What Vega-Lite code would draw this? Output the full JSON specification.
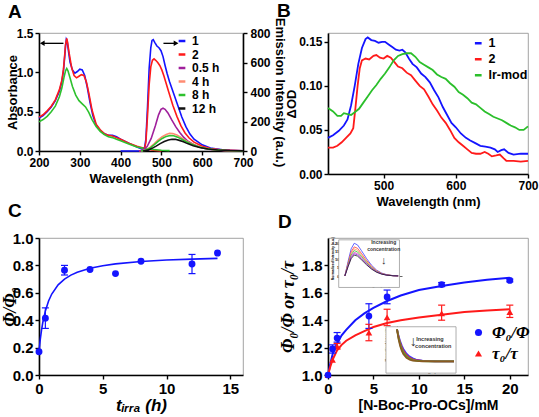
{
"$schema": "https://vega.github.io/schema/vega-lite/v6.json",
"padding": {"left": 0, "top": 1, "right": 0, "bottom": 0},
"autosize": {"type": "pad"},
"columns": 2,
"bounds": "flush",
"align": "each",
"spacing": {"row": 64, "column": 85},
"resolve": {"scale": {"color": "independent", "shape": "independent"}},
"config": {
 "font": "Liberation Sans",
 "view": {"stroke": "#8c8c8c", "strokeWidth": 0.8},
 "axis": {"grid": false, "labelOverlap": false, "labelFlush": false, "domainColor": "#000", "domainWidth": 1.6, "tickColor": "#000", "tickWidth": 1.4, "tickSize": 4, "labelColor": "#000", "titleColor": "#000", "labelFontWeight": "bold", "titleFontWeight": "bold", "labelFontSize": 12, "titleFontSize": 13, "labelPadding": 2, "titlePadding": 4},
 "legend": {"labelColor": "#000", "labelFontWeight": "bold"},
 "title": {"color": "#000", "fontWeight": "bold", "fontSize": 19, "anchor": "start", "frame": "group", "baseline": "alphabetic"}
},
"datasets": {
 "absA": [
  {"s":"1","nm":200,"v":0.42},{"s":"1","nm":210,"v":0.45},{"s":"1","nm":220,"v":0.5},{"s":"1","nm":230,"v":0.56},{"s":"1","nm":240,"v":0.64},{"s":"1","nm":250,"v":0.76},{"s":"1","nm":256,"v":0.88},{"s":"1","nm":260,"v":1.02},{"s":"1","nm":263,"v":1.2},{"s":"1","nm":265,"v":1.33},{"s":"1","nm":267,"v":1.42},{"s":"1","nm":269,"v":1.4},{"s":"1","nm":272,"v":1.28},{"s":"1","nm":276,"v":1.13},{"s":"1","nm":282,"v":1.03},{"s":"1","nm":288,"v":0.99},{"s":"1","nm":294,"v":1.01},{"s":"1","nm":300,"v":1.04},{"s":"1","nm":306,"v":1.03},{"s":"1","nm":312,"v":0.96},{"s":"1","nm":318,"v":0.82},{"s":"1","nm":325,"v":0.62},{"s":"1","nm":332,"v":0.45},{"s":"1","nm":340,"v":0.33},{"s":"1","nm":350,"v":0.26},{"s":"1","nm":360,"v":0.22},{"s":"1","nm":370,"v":0.2},{"s":"1","nm":380,"v":0.2},{"s":"1","nm":390,"v":0.18},{"s":"1","nm":400,"v":0.15},{"s":"1","nm":420,"v":0.1},{"s":"1","nm":440,"v":0.05},{"s":"1","nm":455,"v":0.02},{"s":"1","nm":470,"v":0.01},
  {"s":"2","nm":200,"v":0.43},{"s":"2","nm":210,"v":0.46},{"s":"2","nm":220,"v":0.51},{"s":"2","nm":230,"v":0.57},{"s":"2","nm":240,"v":0.65},{"s":"2","nm":250,"v":0.78},{"s":"2","nm":256,"v":0.9},{"s":"2","nm":260,"v":1.04},{"s":"2","nm":263,"v":1.22},{"s":"2","nm":265,"v":1.35},{"s":"2","nm":268,"v":1.43},{"s":"2","nm":270,"v":1.38},{"s":"2","nm":274,"v":1.24},{"s":"2","nm":280,"v":1.06},{"s":"2","nm":286,"v":0.96},{"s":"2","nm":292,"v":0.93},{"s":"2","nm":298,"v":0.95},{"s":"2","nm":304,"v":0.97},{"s":"2","nm":310,"v":0.96},{"s":"2","nm":316,"v":0.88},{"s":"2","nm":322,"v":0.74},{"s":"2","nm":330,"v":0.52},{"s":"2","nm":340,"v":0.34},{"s":"2","nm":350,"v":0.27},{"s":"2","nm":360,"v":0.22},{"s":"2","nm":370,"v":0.2},{"s":"2","nm":380,"v":0.19},{"s":"2","nm":390,"v":0.17},{"s":"2","nm":400,"v":0.15},{"s":"2","nm":420,"v":0.1},{"s":"2","nm":440,"v":0.06},{"s":"2","nm":460,"v":0.03},{"s":"2","nm":480,"v":0.01},{"s":"2","nm":500,"v":0.0},
  {"s":"8 h","nm":200,"v":0.37},{"s":"8 h","nm":210,"v":0.4},{"s":"8 h","nm":220,"v":0.44},{"s":"8 h","nm":230,"v":0.5},{"s":"8 h","nm":240,"v":0.57},{"s":"8 h","nm":250,"v":0.69},{"s":"8 h","nm":256,"v":0.8},{"s":"8 h","nm":261,"v":0.93},{"s":"8 h","nm":265,"v":1.02},{"s":"8 h","nm":268,"v":1.05},{"s":"8 h","nm":271,"v":1.02},{"s":"8 h","nm":276,"v":0.93},{"s":"8 h","nm":282,"v":0.82},{"s":"8 h","nm":290,"v":0.71},{"s":"8 h","nm":298,"v":0.64},{"s":"8 h","nm":306,"v":0.6},{"s":"8 h","nm":314,"v":0.56},{"s":"8 h","nm":322,"v":0.49},{"s":"8 h","nm":330,"v":0.4},{"s":"8 h","nm":340,"v":0.31},{"s":"8 h","nm":350,"v":0.25},{"s":"8 h","nm":360,"v":0.21},{"s":"8 h","nm":370,"v":0.18},{"s":"8 h","nm":380,"v":0.17},{"s":"8 h","nm":390,"v":0.15},{"s":"8 h","nm":400,"v":0.13},{"s":"8 h","nm":420,"v":0.09},{"s":"8 h","nm":440,"v":0.05},{"s":"8 h","nm":460,"v":0.03},{"s":"8 h","nm":480,"v":0.02},{"s":"8 h","nm":500,"v":0.01},{"s":"8 h","nm":520,"v":0.005}
 ],
 "emA": [
  {"s":"1","nm":400,"v":0},{"s":"1","nm":452,"v":0},{"s":"1","nm":458,"v":10},{"s":"1","nm":462,"v":80},{"s":"1","nm":466,"v":300},{"s":"1","nm":470,"v":560},{"s":"1","nm":474,"v":700},{"s":"1","nm":477,"v":750},{"s":"1","nm":480,"v":755},{"s":"1","nm":484,"v":735},{"s":"1","nm":489,"v":712},{"s":"1","nm":494,"v":700},{"s":"1","nm":499,"v":680},{"s":"1","nm":504,"v":640},{"s":"1","nm":509,"v":580},{"s":"1","nm":514,"v":525},{"s":"1","nm":520,"v":470},{"s":"1","nm":530,"v":390},{"s":"1","nm":540,"v":310},{"s":"1","nm":550,"v":230},{"s":"1","nm":560,"v":165},{"s":"1","nm":570,"v":115},{"s":"1","nm":580,"v":80},{"s":"1","nm":600,"v":42},{"s":"1","nm":620,"v":20},{"s":"1","nm":650,"v":8},{"s":"1","nm":700,"v":2},
  {"s":"2","nm":445,"v":0},{"s":"2","nm":458,"v":5},{"s":"2","nm":462,"v":60},{"s":"2","nm":466,"v":240},{"s":"2","nm":470,"v":450},{"s":"2","nm":474,"v":570},{"s":"2","nm":478,"v":615},{"s":"2","nm":482,"v":625},{"s":"2","nm":486,"v":615},{"s":"2","nm":491,"v":600},{"s":"2","nm":496,"v":580},{"s":"2","nm":501,"v":550},{"s":"2","nm":506,"v":510},{"s":"2","nm":511,"v":465},{"s":"2","nm":518,"v":400},{"s":"2","nm":528,"v":310},{"s":"2","nm":538,"v":235},{"s":"2","nm":548,"v":170},{"s":"2","nm":558,"v":122},{"s":"2","nm":568,"v":88},{"s":"2","nm":580,"v":60},{"s":"2","nm":600,"v":32},{"s":"2","nm":620,"v":16},{"s":"2","nm":650,"v":6},{"s":"2","nm":700,"v":1},
  {"s":"0.5 h","nm":445,"v":0},{"s":"0.5 h","nm":455,"v":5},{"s":"0.5 h","nm":465,"v":30},{"s":"0.5 h","nm":475,"v":85},{"s":"0.5 h","nm":485,"v":170},{"s":"0.5 h","nm":493,"v":245},{"s":"0.5 h","nm":499,"v":282},{"s":"0.5 h","nm":504,"v":290},{"s":"0.5 h","nm":509,"v":283},{"s":"0.5 h","nm":516,"v":258},{"s":"0.5 h","nm":525,"v":212},{"s":"0.5 h","nm":535,"v":165},{"s":"0.5 h","nm":545,"v":125},{"s":"0.5 h","nm":555,"v":92},{"s":"0.5 h","nm":565,"v":66},{"s":"0.5 h","nm":580,"v":42},{"s":"0.5 h","nm":600,"v":21},{"s":"0.5 h","nm":620,"v":10},{"s":"0.5 h","nm":650,"v":3},{"s":"0.5 h","nm":700,"v":0},
  {"s":"4 h","nm":450,"v":0},{"s":"4 h","nm":462,"v":8},{"s":"4 h","nm":472,"v":25},{"s":"4 h","nm":482,"v":48},{"s":"4 h","nm":492,"v":75},{"s":"4 h","nm":502,"v":97},{"s":"4 h","nm":512,"v":112},{"s":"4 h","nm":520,"v":120},{"s":"4 h","nm":528,"v":118},{"s":"4 h","nm":538,"v":108},{"s":"4 h","nm":548,"v":92},{"s":"4 h","nm":558,"v":74},{"s":"4 h","nm":572,"v":52},{"s":"4 h","nm":588,"v":33},{"s":"4 h","nm":605,"v":20},{"s":"4 h","nm":625,"v":11},{"s":"4 h","nm":655,"v":4},{"s":"4 h","nm":700,"v":1},
  {"s":"8 h","nm":450,"v":0},{"s":"8 h","nm":462,"v":6},{"s":"8 h","nm":472,"v":20},{"s":"8 h","nm":482,"v":41},{"s":"8 h","nm":492,"v":65},{"s":"8 h","nm":502,"v":85},{"s":"8 h","nm":512,"v":99},{"s":"8 h","nm":521,"v":105},{"s":"8 h","nm":530,"v":103},{"s":"8 h","nm":540,"v":94},{"s":"8 h","nm":550,"v":80},{"s":"8 h","nm":560,"v":64},{"s":"8 h","nm":575,"v":45},{"s":"8 h","nm":590,"v":29},{"s":"8 h","nm":610,"v":16},{"s":"8 h","nm":630,"v":9},{"s":"8 h","nm":660,"v":3},{"s":"8 h","nm":700,"v":1},
  {"s":"12 h","nm":455,"v":0},{"s":"12 h","nm":467,"v":6},{"s":"12 h","nm":477,"v":18},{"s":"12 h","nm":487,"v":33},{"s":"12 h","nm":497,"v":50},{"s":"12 h","nm":507,"v":64},{"s":"12 h","nm":517,"v":74},{"s":"12 h","nm":526,"v":80},{"s":"12 h","nm":534,"v":79},{"s":"12 h","nm":544,"v":72},{"s":"12 h","nm":554,"v":62},{"s":"12 h","nm":564,"v":50},{"s":"12 h","nm":578,"v":36},{"s":"12 h","nm":594,"v":24},{"s":"12 h","nm":614,"v":14},{"s":"12 h","nm":638,"v":7},{"s":"12 h","nm":668,"v":3},{"s":"12 h","nm":700,"v":1}
 ],
 "arrowsA": [
  {"nm":208,"tail":260,"v":730,"dir":"left"},
  {"nm":536,"tail":505,"v":730,"dir":"right"}
 ],
 "tasB": [
  {"s":"1","nm":423,"v":0.041},{"s":"1","nm":430,"v":0.044},{"s":"1","nm":438,"v":0.049},{"s":"1","nm":445,"v":0.055},{"s":"1","nm":450,"v":0.062},{"s":"1","nm":455,"v":0.078},{"s":"1","nm":460,"v":0.1},{"s":"1","nm":465,"v":0.125},{"s":"1","nm":470,"v":0.143},{"s":"1","nm":475,"v":0.153},{"s":"1","nm":478,"v":0.155},{"s":"1","nm":483,"v":0.152},{"s":"1","nm":488,"v":0.151},{"s":"1","nm":493,"v":0.149},{"s":"1","nm":498,"v":0.15},{"s":"1","nm":502,"v":0.15},{"s":"1","nm":507,"v":0.147},{"s":"1","nm":512,"v":0.144},{"s":"1","nm":517,"v":0.141},{"s":"1","nm":522,"v":0.14},{"s":"1","nm":526,"v":0.141},{"s":"1","nm":530,"v":0.138},{"s":"1","nm":535,"v":0.131},{"s":"1","nm":540,"v":0.125},{"s":"1","nm":546,"v":0.121},{"s":"1","nm":552,"v":0.114},{"s":"1","nm":558,"v":0.11},{"s":"1","nm":564,"v":0.104},{"s":"1","nm":570,"v":0.095},{"s":"1","nm":576,"v":0.087},{"s":"1","nm":582,"v":0.076},{"s":"1","nm":588,"v":0.067},{"s":"1","nm":594,"v":0.058},{"s":"1","nm":600,"v":0.053},{"s":"1","nm":607,"v":0.046},{"s":"1","nm":614,"v":0.041},{"s":"1","nm":620,"v":0.038},{"s":"1","nm":627,"v":0.035},{"s":"1","nm":634,"v":0.032},{"s":"1","nm":641,"v":0.031},{"s":"1","nm":648,"v":0.03},{"s":"1","nm":654,"v":0.028},{"s":"1","nm":658,"v":0.025},{"s":"1","nm":663,"v":0.027},{"s":"1","nm":667,"v":0.028},{"s":"1","nm":673,"v":0.024},{"s":"1","nm":680,"v":0.022},{"s":"1","nm":690,"v":0.023},{"s":"1","nm":700,"v":0.023},
  {"s":"2","nm":423,"v":0.03},{"s":"2","nm":430,"v":0.03},{"s":"2","nm":436,"v":0.032},{"s":"2","nm":442,"v":0.036},{"s":"2","nm":448,"v":0.041},{"s":"2","nm":454,"v":0.046},{"s":"2","nm":458,"v":0.052},{"s":"2","nm":461,"v":0.075},{"s":"2","nm":464,"v":0.1},{"s":"2","nm":467,"v":0.12},{"s":"2","nm":470,"v":0.129},{"s":"2","nm":475,"v":0.131},{"s":"2","nm":480,"v":0.13},{"s":"2","nm":486,"v":0.134},{"s":"2","nm":490,"v":0.135},{"s":"2","nm":495,"v":0.132},{"s":"2","nm":500,"v":0.131},{"s":"2","nm":505,"v":0.134},{"s":"2","nm":510,"v":0.132},{"s":"2","nm":515,"v":0.127},{"s":"2","nm":520,"v":0.122},{"s":"2","nm":526,"v":0.12},{"s":"2","nm":532,"v":0.115},{"s":"2","nm":538,"v":0.112},{"s":"2","nm":544,"v":0.106},{"s":"2","nm":550,"v":0.1},{"s":"2","nm":556,"v":0.096},{"s":"2","nm":562,"v":0.088},{"s":"2","nm":568,"v":0.079},{"s":"2","nm":574,"v":0.072},{"s":"2","nm":580,"v":0.064},{"s":"2","nm":586,"v":0.058},{"s":"2","nm":592,"v":0.05},{"s":"2","nm":598,"v":0.041},{"s":"2","nm":604,"v":0.036},{"s":"2","nm":610,"v":0.032},{"s":"2","nm":616,"v":0.028},{"s":"2","nm":622,"v":0.024},{"s":"2","nm":628,"v":0.023},{"s":"2","nm":634,"v":0.023},{"s":"2","nm":640,"v":0.025},{"s":"2","nm":645,"v":0.023},{"s":"2","nm":650,"v":0.02},{"s":"2","nm":656,"v":0.021},{"s":"2","nm":661,"v":0.022},{"s":"2","nm":666,"v":0.018},{"s":"2","nm":670,"v":0.015},{"s":"2","nm":680,"v":0.015},{"s":"2","nm":690,"v":0.014},{"s":"2","nm":700,"v":0.015},
  {"s":"Ir-mod","nm":423,"v":0.075},{"s":"Ir-mod","nm":430,"v":0.071},{"s":"Ir-mod","nm":436,"v":0.066},{"s":"Ir-mod","nm":441,"v":0.066},{"s":"Ir-mod","nm":445,"v":0.069},{"s":"Ir-mod","nm":450,"v":0.068},{"s":"Ir-mod","nm":455,"v":0.067},{"s":"Ir-mod","nm":460,"v":0.07},{"s":"Ir-mod","nm":466,"v":0.074},{"s":"Ir-mod","nm":472,"v":0.081},{"s":"Ir-mod","nm":478,"v":0.088},{"s":"Ir-mod","nm":484,"v":0.095},{"s":"Ir-mod","nm":490,"v":0.101},{"s":"Ir-mod","nm":496,"v":0.108},{"s":"Ir-mod","nm":502,"v":0.114},{"s":"Ir-mod","nm":508,"v":0.121},{"s":"Ir-mod","nm":514,"v":0.129},{"s":"Ir-mod","nm":520,"v":0.134},{"s":"Ir-mod","nm":526,"v":0.136},{"s":"Ir-mod","nm":532,"v":0.137},{"s":"Ir-mod","nm":538,"v":0.137},{"s":"Ir-mod","nm":544,"v":0.133},{"s":"Ir-mod","nm":550,"v":0.127},{"s":"Ir-mod","nm":556,"v":0.124},{"s":"Ir-mod","nm":562,"v":0.121},{"s":"Ir-mod","nm":568,"v":0.118},{"s":"Ir-mod","nm":574,"v":0.113},{"s":"Ir-mod","nm":580,"v":0.11},{"s":"Ir-mod","nm":586,"v":0.108},{"s":"Ir-mod","nm":592,"v":0.103},{"s":"Ir-mod","nm":598,"v":0.099},{"s":"Ir-mod","nm":604,"v":0.093},{"s":"Ir-mod","nm":610,"v":0.09},{"s":"Ir-mod","nm":616,"v":0.086},{"s":"Ir-mod","nm":622,"v":0.081},{"s":"Ir-mod","nm":628,"v":0.079},{"s":"Ir-mod","nm":634,"v":0.075},{"s":"Ir-mod","nm":640,"v":0.071},{"s":"Ir-mod","nm":646,"v":0.068},{"s":"Ir-mod","nm":652,"v":0.065},{"s":"Ir-mod","nm":658,"v":0.063},{"s":"Ir-mod","nm":664,"v":0.061},{"s":"Ir-mod","nm":670,"v":0.058},{"s":"Ir-mod","nm":676,"v":0.055},{"s":"Ir-mod","nm":682,"v":0.053},{"s":"Ir-mod","nm":688,"v":0.05},{"s":"Ir-mod","nm":694,"v":0.05},{"s":"Ir-mod","nm":700,"v":0.054}
 ],
 "fitC": [
  {"t":0,"v":0.17},{"t":0.1,"v":0.259},{"t":0.2,"v":0.329},{"t":0.3,"v":0.385},{"t":0.5,"v":0.468},{"t":0.75,"v":0.54},{"t":1,"v":0.591},{"t":1.5,"v":0.658},{"t":2,"v":0.7},{"t":2.5,"v":0.729},{"t":3,"v":0.75},{"t":4,"v":0.779},{"t":5,"v":0.798},{"t":6,"v":0.811},{"t":8,"v":0.828},{"t":10,"v":0.839},{"t":12,"v":0.846},{"t":14,"v":0.851}
 ],
 "ptsC": [
  {"t":0,"v":0.17},{"t":0.5,"v":0.415},{"t":2,"v":0.765},{"t":4,"v":0.77},{"t":6,"v":0.74},{"t":8,"v":0.83},{"t":12,"v":0.81},{"t":14,"v":0.89}
 ],
 "errC": [
  {"t":0.5,"lo":0.34,"hi":0.49},{"t":2,"lo":0.73,"hi":0.8},{"t":12,"lo":0.74,"hi":0.88}
 ],
 "fitD": [
  {"x":0,"b":1.0,"r":1.0},{"x":0.25,"b":1.08,"r":1.06},{"x":0.5,"b":1.15,"r":1.11},{"x":1,"b":1.23,"r":1.18},{"x":1.5,"b":1.29,"r":1.22},{"x":2,"b":1.33,"r":1.25},{"x":3,"b":1.4,"r":1.29},{"x":4,"b":1.45,"r":1.32},{"x":5,"b":1.49,"r":1.35},{"x":6.5,"b":1.54,"r":1.38},{"x":8,"b":1.58,"r":1.4},{"x":10,"b":1.62,"r":1.42},{"x":12.5,"b":1.65,"r":1.44},{"x":15,"b":1.675,"r":1.46},{"x":17.5,"b":1.695,"r":1.47},{"x":20,"b":1.71,"r":1.48}
 ],
 "ptsD": [
  {"x":0,"v":1.0,"s":"τ₀/τ"},{"x":0.5,"v":1.11,"s":"τ₀/τ"},{"x":1,"v":1.21,"s":"τ₀/τ"},{"x":4.5,"v":1.31,"s":"τ₀/τ"},{"x":6.5,"v":1.42,"s":"τ₀/τ"},{"x":12.5,"v":1.45,"s":"τ₀/τ"},{"x":20,"v":1.46,"s":"τ₀/τ"},
  {"x":0,"v":1.0,"s":"Φ₀/Φ"},{"x":0.5,"v":1.19,"s":"Φ₀/Φ"},{"x":1,"v":1.27,"s":"Φ₀/Φ"},{"x":4.5,"v":1.43,"s":"Φ₀/Φ"},{"x":6.5,"v":1.57,"s":"Φ₀/Φ"},{"x":12.5,"v":1.66,"s":"Φ₀/Φ"},{"x":20,"v":1.69,"s":"Φ₀/Φ"}
 ],
 "errDb": [
  {"x":0.5,"lo":1.16,"hi":1.22},{"x":1,"lo":1.24,"hi":1.31},{"x":4.5,"lo":1.34,"hi":1.52},{"x":6.5,"lo":1.52,"hi":1.62},{"x":12.5,"lo":1.645,"hi":1.675},{"x":20,"lo":1.68,"hi":1.7}
 ],
 "errDr": [
  {"x":1,"lo":1.19,"hi":1.23},{"x":4.5,"lo":1.25,"hi":1.37},{"x":6.5,"lo":1.36,"hi":1.48},{"x":12.5,"lo":1.4,"hi":1.51},{"x":20,"lo":1.42,"hi":1.51}
 ],
 "ins1": [
  {"nm":455,"c1":0,"c2":0,"c3":0,"c4":0,"c5":0,"c6":0,"c7":0},
  {"nm":468,"c1":9.0,"c2":8.01,"c3":7.47,"c4":6.98,"c5":6.48,"c6":6.12,"c7":5.76},
  {"nm":480,"c1":16.6,"c2":14.77,"c3":13.78,"c4":12.87,"c5":11.95,"c6":11.29,"c7":10.62},
  {"nm":492,"c1":20,"c2":17.8,"c3":16.6,"c4":15.5,"c5":14.4,"c6":13.6,"c7":12.8},
  {"nm":505,"c1":19,"c2":16.91,"c3":15.77,"c4":14.73,"c5":13.68,"c6":12.92,"c7":12.16},
  {"nm":520,"c1":15.6,"c2":13.88,"c3":12.95,"c4":12.09,"c5":11.23,"c6":10.61,"c7":9.98},
  {"nm":540,"c1":10.8,"c2":9.61,"c3":8.96,"c4":8.37,"c5":7.78,"c6":7.34,"c7":6.91},
  {"nm":560,"c1":6.6,"c2":5.87,"c3":5.48,"c4":5.12,"c5":4.75,"c6":4.49,"c7":4.22},
  {"nm":580,"c1":3.6,"c2":3.2,"c3":2.99,"c4":2.79,"c5":2.59,"c6":2.45,"c7":2.3},
  {"nm":600,"c1":1.8,"c2":1.6,"c3":1.49,"c4":1.4,"c5":1.3,"c6":1.22,"c7":1.15},
  {"nm":620,"c1":0.8,"c2":0.71,"c3":0.66,"c4":0.62,"c5":0.58,"c6":0.54,"c7":0.51},
  {"nm":645,"c1":0.24,"c2":0.21,"c3":0.2,"c4":0.19,"c5":0.17,"c6":0.16,"c7":0.15},
  {"nm":665,"c1":0.1,"c2":0.09,"c3":0.08,"c4":0.08,"c5":0.07,"c6":0.07,"c7":0.06}
 ],
 "box1": [{"nm":431,"nm2":670,"v":-7,"v2":22.1}],
 "txt1": [{"nm":608,"v":20.6,"label":"Increasing"},{"nm":608,"v":16.3,"label":"concentration"}],
 "arr1": [{"nm":608,"v":9.0,"label":"↓"}],
 "ins2": [
  {"t":0,"c1":1.0,"c2":1.0,"c3":1.0,"c4":1.0},
  {"t":0.25,"c1":0.792,"c2":0.762,"c3":0.731,"c4":0.698},
  {"t":0.5,"c1":0.629,"c2":0.583,"c3":0.536,"c4":0.489},
  {"t":0.75,"c1":0.5,"c2":0.446,"c3":0.394,"c4":0.345},
  {"t":1,"c1":0.398,"c2":0.342,"c3":0.291,"c4":0.245},
  {"t":1.5,"c1":0.255,"c2":0.205,"c3":0.163,"c4":0.128},
  {"t":2,"c1":0.166,"c2":0.126,"c3":0.095,"c4":0.072},
  {"t":2.5,"c1":0.111,"c2":0.081,"c3":0.06,"c4":0.045},
  {"t":3,"c1":0.076,"c2":0.055,"c3":0.041,"c4":0.032},
  {"t":4,"c1":0.042,"c2":0.031,"c3":0.026,"c4":0.023},
  {"t":5,"c1":0.028,"c2":0.024,"c3":0.022,"c4":0.021},
  {"t":6,"c1":0.023,"c2":0.021,"c3":0.02,"c4":0.02},
  {"t":7,"c1":0.021,"c2":0.02,"c3":0.02,"c4":0.02},
  {"t":8,"c1":0.02,"c2":0.02,"c3":0.02,"c4":0.02},
  {"t":9,"c1":0.02,"c2":0.02,"c3":0.02,"c4":0.02}
 ],
 "box2": [{"t":-1.74,"t2":9.32,"v":-0.34,"v2":1.077}],
 "txt2": [{"t":5.2,"v":0.71,"label":"Increasing"},{"t":5.73,"v":0.48,"label":"concentration"}],
 "arr2": [{"t":2.57,"v":0.6,"label":"↓"}]
},
"concat": [
 {
  "width": 204, "height": 118,
  "title": {"text": "A", "dx": -31, "offset": -5},
  "resolve": {"scale": {"y": "independent"}},
  "layer": [
   {"data": {"name": "absA"}, "mark": {"type": "line", "strokeWidth": 1.6},
    "encoding": {
     "x": {"field": "nm", "type": "quantitative", "scale": {"domain": [200, 700]}, "axis": {"values": [200,300,400,500,600,700], "title": "Wavelength (nm)", "labelOverlap": false}},
     "y": {"field": "v", "type": "quantitative", "scale": {"domain": [0, 1.5]}, "axis": {"values": [0,0.5,1,1.5], "format": ".1f", "title": "Absorbance", "titlePadding": -3, "labelOverlap": false}},
     "color": {"field": "s", "type": "nominal", "scale": {"domain": ["1","2","0.5 h","4 h","8 h","12 h"], "range": ["#1414ff","#ff1a1a","#a0209c","#ff8c73","#2ec12e","#111111"]},
      "legend": {"orient": "none", "legendX": 137, "legendY": 2, "title": null, "symbolType": "stroke", "symbolStrokeWidth": 2.5, "symbolSize": 45, "labelFontSize": 12, "rowPadding": 1.5, "labelOffset": 4}}
    }},
   {"layer": [
    {"data": {"name": "emA"}, "mark": {"type": "line", "strokeWidth": 1.6},
     "encoding": {
      "x": {"field": "nm", "type": "quantitative"},
      "y": {"field": "v", "type": "quantitative", "scale": {"domain": [0, 800]}, "axis": {"orient": "right", "values": [0,200,400,600,800], "title": "Emission Intensity (a.u.)", "titleAngle": 90, "titlePadding": 2, "labelOverlap": false, "labelPadding": 3}},
      "color": {"field": "s", "type": "nominal"}
     }},
    {"data": {"name": "arrowsA"}, "mark": {"type": "rule", "strokeWidth": 1.3, "color": "#000"},
     "encoding": {"x": {"field": "nm", "type": "quantitative"}, "x2": {"field": "tail"},
      "y": {"field": "v", "type": "quantitative", "scale": {"domain": [0, 800]}, "axis": {"orient": "right", "values": [0,200,400,600,800], "title": "Emission Intensity (a.u.)", "titleAngle": 90, "titlePadding": 2, "labelOverlap": false, "labelPadding": 3}}}},
    {"data": {"name": "arrowsA"}, "mark": {"type": "point", "filled": true, "color": "#000", "size": 30, "opacity": 1},
     "encoding": {"x": {"field": "nm", "type": "quantitative"},
      "y": {"field": "v", "type": "quantitative", "scale": {"domain": [0, 800]}, "axis": {"orient": "right", "values": [0,200,400,600,800], "title": "Emission Intensity (a.u.)", "titleAngle": 90, "titlePadding": 2, "labelOverlap": false, "labelPadding": 3}},
      "shape": {"field": "dir", "type": "nominal", "scale": {"domain": ["left","right"], "range": ["triangle-left","triangle-right"]}, "legend": null}}}
   ]}
  ]
 },
 {
  "width": 200, "height": 141,
  "title": {"text": "B", "dx": -51, "offset": 12},
  "data": {"name": "tasB"},
  "mark": {"type": "line", "strokeWidth": 1.8},
  "encoding": {
   "x": {"field": "nm", "type": "quantitative", "scale": {"domain": [423, 700]}, "axis": {"values": [500,600,700], "title": "Wavelength (nm)", "labelOverlap": false}},
   "y": {"field": "v", "type": "quantitative", "scale": {"domain": [0, 0.16]}, "axis": {"values": [0,0.05,0.1,0.15], "format": ".2f", "title": "ΔOD", "titlePadding": 0, "labelOverlap": false}},
   "color": {"field": "s", "type": "nominal", "scale": {"domain": ["1","2","Ir-mod"], "range": ["#1414ff","#ff1a1a","#2bbf2b"]},
    "legend": {"orient": "none", "legendX": 144, "legendY": 4, "title": null, "symbolType": "stroke", "symbolStrokeWidth": 2.5, "symbolSize": 45, "labelFontSize": 12.5, "rowPadding": 3, "labelOffset": 4}}
  }
 },
 {
  "width": 204, "height": 137,
  "title": {"text": "C", "dx": -31, "offset": 10},
  "layer": [
   {"data": {"name": "fitC"}, "mark": {"type": "line", "color": "#1414ff", "strokeWidth": 1.6},
    "encoding": {
     "x": {"field": "t", "type": "quantitative", "scale": {"domain": [0, 15.4]}, "axis": {"values": [0,5,10,15], "title": "tᵢᵣᵣₐ (h)", "labelFontSize": 15, "titleFontSize": 17, "titleFontStyle": "italic", "titlePadding": 1, "labelOverlap": false}},
     "y": {"field": "v", "type": "quantitative", "scale": {"domain": [0, 1]}, "axis": {"values": [0,0.2,0.4,0.6,0.8,1], "format": ".1f", "title": "Φ/Φ₀", "labelFontSize": 15, "titleFontSize": 18, "titleFont": "Liberation Serif", "titleFontStyle": "italic", "titlePadding": -7, "labelOverlap": false}}
    }},
   {"data": {"name": "errC"}, "mark": {"type": "rule", "color": "#1414ff", "strokeWidth": 1.2},
    "encoding": {"x": {"field": "t", "type": "quantitative"}, "y": {"field": "lo", "type": "quantitative", "axis": {"values": [0,0.2,0.4,0.6,0.8,1], "format": ".1f", "title": "Φ/Φ₀", "labelFontSize": 15, "titleFontSize": 18, "titleFont": "Liberation Serif", "titleFontStyle": "italic", "titlePadding": -7, "labelOverlap": false}}, "y2": {"field": "hi"}}},
   {"data": {"name": "errC"}, "mark": {"type": "tick", "orient": "horizontal", "size": 7, "thickness": 1.2, "color": "#1414ff", "opacity": 1},
    "encoding": {"x": {"field": "t", "type": "quantitative"}, "y": {"field": "lo", "type": "quantitative", "axis": {"values": [0,0.2,0.4,0.6,0.8,1], "format": ".1f", "title": "Φ/Φ₀", "labelFontSize": 15, "titleFontSize": 18, "titleFont": "Liberation Serif", "titleFontStyle": "italic", "titlePadding": -7, "labelOverlap": false}}}},
   {"data": {"name": "errC"}, "mark": {"type": "tick", "orient": "horizontal", "size": 7, "thickness": 1.2, "color": "#1414ff", "opacity": 1},
    "encoding": {"x": {"field": "t", "type": "quantitative"}, "y": {"field": "hi", "type": "quantitative", "axis": {"values": [0,0.2,0.4,0.6,0.8,1], "format": ".1f", "title": "Φ/Φ₀", "labelFontSize": 15, "titleFontSize": 18, "titleFont": "Liberation Serif", "titleFontStyle": "italic", "titlePadding": -7, "labelOverlap": false}}}},
   {"data": {"name": "ptsC"}, "mark": {"type": "circle", "color": "#1414ff", "size": 48, "opacity": 1},
    "encoding": {"x": {"field": "t", "type": "quantitative"}, "y": {"field": "v", "type": "quantitative", "axis": {"values": [0,0.2,0.4,0.6,0.8,1], "format": ".1f", "title": "Φ/Φ₀", "labelFontSize": 15, "titleFontSize": 18, "titleFont": "Liberation Serif", "titleFontStyle": "italic", "titlePadding": -7, "labelOverlap": false}}}}
  ]
 },
 {
  "width": 200, "height": 137,
  "title": {"text": "D", "dx": -50, "offset": 4},
  "resolve": {"scale": {"x": "independent", "y": "independent", "color": "independent", "shape": "independent"}},
  "layer": [
   {"layer": [
    {"data": {"name": "fitD"}, "mark": {"type": "line", "color": "#1414ff", "strokeWidth": 2},
     "encoding": {
      "x": {"field": "x", "type": "quantitative", "scale": {"domain": [0, 21.2]}, "axis": {"values": [0,5,10,15,20], "title": "[N-Boc-Pro-OCs]/mM", "labelFontSize": 15, "titleFontSize": 14, "titlePadding": 2, "labelOverlap": false}},
      "y": {"field": "b", "type": "quantitative", "scale": {"domain": [1, 1.93]}, "axis": {"values": [1,1.2,1.4,1.6,1.8], "format": ".1f", "title": "Φ₀/Φ or τ₀/τ", "labelFontSize": 15, "titleFontSize": 18, "titleFont": "Liberation Serif", "titleFontStyle": "italic", "titlePadding": 4, "labelOverlap": false}}
     }},
    {"data": {"name": "fitD"}, "mark": {"type": "line", "color": "#ff1a1a", "strokeWidth": 2},
     "encoding": {"x": {"field": "x", "type": "quantitative"}, "y": {"field": "r", "type": "quantitative", "axis": {"values": [1,1.2,1.4,1.6,1.8], "format": ".1f", "title": "Φ₀/Φ or τ₀/τ", "labelFontSize": 15, "titleFontSize": 18, "titleFont": "Liberation Serif", "titleFontStyle": "italic", "titlePadding": 4, "labelOverlap": false}}}},
    {"data": {"name": "errDb"}, "mark": {"type": "rule", "color": "#1414ff", "strokeWidth": 1.2},
     "encoding": {"x": {"field": "x", "type": "quantitative"}, "y": {"field": "lo", "type": "quantitative", "axis": {"values": [1,1.2,1.4,1.6,1.8], "format": ".1f", "title": "Φ₀/Φ or τ₀/τ", "labelFontSize": 15, "titleFontSize": 18, "titleFont": "Liberation Serif", "titleFontStyle": "italic", "titlePadding": 4, "labelOverlap": false}}, "y2": {"field": "hi"}}},
    {"data": {"name": "errDb"}, "mark": {"type": "tick", "orient": "horizontal", "size": 7, "thickness": 1.2, "color": "#1414ff", "opacity": 1},
     "encoding": {"x": {"field": "x", "type": "quantitative"}, "y": {"field": "lo", "type": "quantitative", "axis": {"values": [1,1.2,1.4,1.6,1.8], "format": ".1f", "title": "Φ₀/Φ or τ₀/τ", "labelFontSize": 15, "titleFontSize": 18, "titleFont": "Liberation Serif", "titleFontStyle": "italic", "titlePadding": 4, "labelOverlap": false}}}},
    {"data": {"name": "errDb"}, "mark": {"type": "tick", "orient": "horizontal", "size": 7, "thickness": 1.2, "color": "#1414ff", "opacity": 1},
     "encoding": {"x": {"field": "x", "type": "quantitative"}, "y": {"field": "hi", "type": "quantitative", "axis": {"values": [1,1.2,1.4,1.6,1.8], "format": ".1f", "title": "Φ₀/Φ or τ₀/τ", "labelFontSize": 15, "titleFontSize": 18, "titleFont": "Liberation Serif", "titleFontStyle": "italic", "titlePadding": 4, "labelOverlap": false}}}},
    {"data": {"name": "errDr"}, "mark": {"type": "rule", "color": "#ff1a1a", "strokeWidth": 1.2},
     "encoding": {"x": {"field": "x", "type": "quantitative"}, "y": {"field": "lo", "type": "quantitative", "axis": {"values": [1,1.2,1.4,1.6,1.8], "format": ".1f", "title": "Φ₀/Φ or τ₀/τ", "labelFontSize": 15, "titleFontSize": 18, "titleFont": "Liberation Serif", "titleFontStyle": "italic", "titlePadding": 4, "labelOverlap": false}}, "y2": {"field": "hi"}}},
    {"data": {"name": "errDr"}, "mark": {"type": "tick", "orient": "horizontal", "size": 7, "thickness": 1.2, "color": "#ff1a1a", "opacity": 1},
     "encoding": {"x": {"field": "x", "type": "quantitative"}, "y": {"field": "lo", "type": "quantitative", "axis": {"values": [1,1.2,1.4,1.6,1.8], "format": ".1f", "title": "Φ₀/Φ or τ₀/τ", "labelFontSize": 15, "titleFontSize": 18, "titleFont": "Liberation Serif", "titleFontStyle": "italic", "titlePadding": 4, "labelOverlap": false}}}},
    {"data": {"name": "errDr"}, "mark": {"type": "tick", "orient": "horizontal", "size": 7, "thickness": 1.2, "color": "#ff1a1a", "opacity": 1},
     "encoding": {"x": {"field": "x", "type": "quantitative"}, "y": {"field": "hi", "type": "quantitative", "axis": {"values": [1,1.2,1.4,1.6,1.8], "format": ".1f", "title": "Φ₀/Φ or τ₀/τ", "labelFontSize": 15, "titleFontSize": 18, "titleFont": "Liberation Serif", "titleFontStyle": "italic", "titlePadding": 4, "labelOverlap": false}}}},
    {"data": {"name": "ptsD"}, "mark": {"type": "point", "filled": true, "size": 45, "opacity": 1},
     "encoding": {"x": {"field": "x", "type": "quantitative"}, "y": {"field": "v", "type": "quantitative", "axis": {"values": [1,1.2,1.4,1.6,1.8], "format": ".1f", "title": "Φ₀/Φ or τ₀/τ", "labelFontSize": 15, "titleFontSize": 18, "titleFont": "Liberation Serif", "titleFontStyle": "italic", "titlePadding": 4, "labelOverlap": false}},
      "color": {"field": "s", "type": "nominal", "scale": {"domain": ["Φ₀/Φ","τ₀/τ"], "range": ["#1414ff","#ff1a1a"]}, "legend": {"orient": "none", "legendX": 142, "legendY": 86, "title": null, "labelFont": "Liberation Serif", "labelFontStyle": "italic", "labelFontSize": 17, "symbolSize": 50, "rowPadding": 3, "labelOffset": 5}},
      "shape": {"field": "s", "type": "nominal", "scale": {"domain": ["Φ₀/Φ","τ₀/τ"], "range": ["circle","triangle-up"]}, "legend": {"orient": "none", "legendX": 142, "legendY": 86, "title": null, "labelFont": "Liberation Serif", "labelFontStyle": "italic", "labelFontSize": 17, "symbolSize": 50, "rowPadding": 3, "labelOffset": 5}}}}
   ]},
   {"layer": [
    {"data": {"name": "box1"}, "mark": {"type": "rect", "fill": "#fff", "stroke": "#9a9a9a", "strokeWidth": 0.8},
     "encoding": {
      "x": {"field": "nm", "type": "quantitative", "scale": {"domain": [455, 667], "range": [13, 74]}, "axis": {"orient": "bottom", "offset": -99, "values": [500,550,600,650], "title": "Wavelength (nm)", "labelFontSize": 4, "titleFontSize": 4.5, "labelPadding": 0.5, "titlePadding": 0, "tickSize": 1.5, "tickWidth": 0.6, "domainWidth": 0.6, "labelOverlap": false}},
      "x2": {"field": "nm2"},
      "y": {"field": "v", "type": "quantitative", "scale": {"domain": [0, 21], "range": [38, 2]}, "axis": {"orient": "left", "offset": -13, "values": [0,5,10,15,20], "title": "Normalized Intensity (a.u.)", "labelFontSize": 4, "titleFontSize": 3.5, "labelPadding": 0.5, "titlePadding": 0.5, "tickSize": 1.5, "tickWidth": 0.6, "domainWidth": 0.6, "labelOverlap": false}},
      "y2": {"field": "v2"}
     }},
    {"data": {"name": "ins1"}, "transform": [{"fold": ["c1","c2","c3","c4","c5","c6","c7"], "as": ["k","v"]}],
     "mark": {"type": "line", "strokeWidth": 0.8},
     "encoding": {
      "x": {"field": "nm", "type": "quantitative", "scale": {"domain": [455, 667], "range": [13, 74]}, "axis": {"orient": "bottom", "offset": -99, "values": [500,550,600,650], "title": "Wavelength (nm)", "labelFontSize": 4, "titleFontSize": 4.5, "labelPadding": 0.5, "titlePadding": 0, "tickSize": 1.5, "tickWidth": 0.6, "domainWidth": 0.6, "labelOverlap": false}},
      "y": {"field": "v", "type": "quantitative", "scale": {"domain": [0, 21], "range": [38, 2]}, "axis": {"orient": "left", "offset": -13, "values": [0,5,10,15,20], "title": "Normalized Intensity (a.u.)", "labelFontSize": 4, "titleFontSize": 3.5, "labelPadding": 0.5, "titlePadding": 0.5, "tickSize": 1.5, "tickWidth": 0.6, "domainWidth": 0.6, "labelOverlap": false}},
      "color": {"field": "k", "type": "nominal", "scale": {"domain": ["c1","c2","c3","c4","c5","c6","c7"], "range": ["#3d3dff","#ff3b3b","#ff9a5a","#33c233","#e040c0","#8a2be2","#222222"]}, "legend": null}
     }},
    {"data": {"name": "txt1"}, "mark": {"type": "text", "fontSize": 5, "fontWeight": "bold", "color": "#333"},
     "encoding": {
      "x": {"field": "nm", "type": "quantitative", "axis": {"orient": "bottom", "offset": -99, "values": [500,550,600,650], "title": "Wavelength (nm)", "labelFontSize": 4, "titleFontSize": 4.5, "labelPadding": 0.5, "titlePadding": 0, "tickSize": 1.5, "tickWidth": 0.6, "domainWidth": 0.6, "labelOverlap": false}},
      "y": {"field": "v", "type": "quantitative", "axis": {"orient": "left", "offset": -13, "values": [0,5,10,15,20], "title": "Normalized Intensity (a.u.)", "labelFontSize": 4, "titleFontSize": 3.5, "labelPadding": 0.5, "titlePadding": 0.5, "tickSize": 1.5, "tickWidth": 0.6, "domainWidth": 0.6, "labelOverlap": false}},
      "text": {"field": "label"}}},
    {"data": {"name": "arr1"}, "mark": {"type": "text", "fontSize": 11, "color": "#333"},
     "encoding": {
      "x": {"field": "nm", "type": "quantitative", "axis": {"orient": "bottom", "offset": -99, "values": [500,550,600,650], "title": "Wavelength (nm)", "labelFontSize": 4, "titleFontSize": 4.5, "labelPadding": 0.5, "titlePadding": 0, "tickSize": 1.5, "tickWidth": 0.6, "domainWidth": 0.6, "labelOverlap": false}},
      "y": {"field": "v", "type": "quantitative", "axis": {"orient": "left", "offset": -13, "values": [0,5,10,15,20], "title": "Normalized Intensity (a.u.)", "labelFontSize": 4, "titleFontSize": 3.5, "labelPadding": 0.5, "titlePadding": 0.5, "tickSize": 1.5, "tickWidth": 0.6, "domainWidth": 0.6, "labelOverlap": false}},
      "text": {"field": "label"}}}
   ]},
   {"layer": [
    {"data": {"name": "box2"}, "mark": {"type": "rect", "fill": "#fff", "stroke": "#9a9a9a", "strokeWidth": 0.8},
     "encoding": {
      "x": {"field": "t", "type": "quantitative", "scale": {"domain": [0, 9], "range": [69, 126]}, "axis": {"orient": "bottom", "offset": -13, "values": [0,2,4,6,8], "title": "Time (μs)", "labelFontSize": 4, "titleFontSize": 4.5, "labelPadding": 0.5, "titlePadding": 0, "tickSize": 1.5, "tickWidth": 0.6, "domainWidth": 0.6, "labelOverlap": false}},
      "x2": {"field": "t2"},
      "y": {"field": "v", "type": "quantitative", "scale": {"domain": [0, 1.02], "range": [124, 88]}, "axis": {"orient": "left", "offset": -69, "values": [0,0.5,1], "format": ".1f", "title": "Normalized intensity", "labelFontSize": 4, "titleFontSize": 3.5, "labelPadding": 0.5, "titlePadding": 0.5, "tickSize": 1.5, "tickWidth": 0.6, "domainWidth": 0.6, "labelOverlap": false}},
      "y2": {"field": "v2"}
     }},
    {"data": {"name": "ins2"}, "transform": [{"fold": ["c1","c2","c3","c4"], "as": ["k","v"]}],
     "mark": {"type": "line", "strokeWidth": 1.8},
     "encoding": {
      "x": {"field": "t", "type": "quantitative", "scale": {"domain": [0, 9], "range": [69, 126]}, "axis": {"orient": "bottom", "offset": -13, "values": [0,2,4,6,8], "title": "Time (μs)", "labelFontSize": 4, "titleFontSize": 4.5, "labelPadding": 0.5, "titlePadding": 0, "tickSize": 1.5, "tickWidth": 0.6, "domainWidth": 0.6, "labelOverlap": false}},
      "y": {"field": "v", "type": "quantitative", "scale": {"domain": [0, 1.02], "range": [124, 88]}, "axis": {"orient": "left", "offset": -69, "values": [0,0.5,1], "format": ".1f", "title": "Normalized intensity", "labelFontSize": 4, "titleFontSize": 3.5, "labelPadding": 0.5, "titlePadding": 0.5, "tickSize": 1.5, "tickWidth": 0.6, "domainWidth": 0.6, "labelOverlap": false}},
      "color": {"field": "k", "type": "nominal", "scale": {"domain": ["c1","c2","c3","c4"], "range": ["#3d3dff","#e03030","#40b040","#8a5a20"]}, "legend": null}
     }},
    {"data": {"name": "txt2"}, "mark": {"type": "text", "fontSize": 5.5, "fontWeight": "bold", "color": "#333"},
     "encoding": {
      "x": {"field": "t", "type": "quantitative", "axis": {"orient": "bottom", "offset": -13, "values": [0,2,4,6,8], "title": "Time (μs)", "labelFontSize": 4, "titleFontSize": 4.5, "labelPadding": 0.5, "titlePadding": 0, "tickSize": 1.5, "tickWidth": 0.6, "domainWidth": 0.6, "labelOverlap": false}},
      "y": {"field": "v", "type": "quantitative", "axis": {"orient": "left", "offset": -69, "values": [0,0.5,1], "format": ".1f", "title": "Normalized intensity", "labelFontSize": 4, "titleFontSize": 3.5, "labelPadding": 0.5, "titlePadding": 0.5, "tickSize": 1.5, "tickWidth": 0.6, "domainWidth": 0.6, "labelOverlap": false}},
      "text": {"field": "label"}}},
    {"data": {"name": "arr2"}, "mark": {"type": "text", "fontSize": 14, "color": "#333"},
     "encoding": {
      "x": {"field": "t", "type": "quantitative", "axis": {"orient": "bottom", "offset": -13, "values": [0,2,4,6,8], "title": "Time (μs)", "labelFontSize": 4, "titleFontSize": 4.5, "labelPadding": 0.5, "titlePadding": 0, "tickSize": 1.5, "tickWidth": 0.6, "domainWidth": 0.6, "labelOverlap": false}},
      "y": {"field": "v", "type": "quantitative", "axis": {"orient": "left", "offset": -69, "values": [0,0.5,1], "format": ".1f", "title": "Normalized intensity", "labelFontSize": 4, "titleFontSize": 3.5, "labelPadding": 0.5, "titlePadding": 0.5, "tickSize": 1.5, "tickWidth": 0.6, "domainWidth": 0.6, "labelOverlap": false}},
      "text": {"field": "label"}}}
   ]}
  ]
 }
]
}
